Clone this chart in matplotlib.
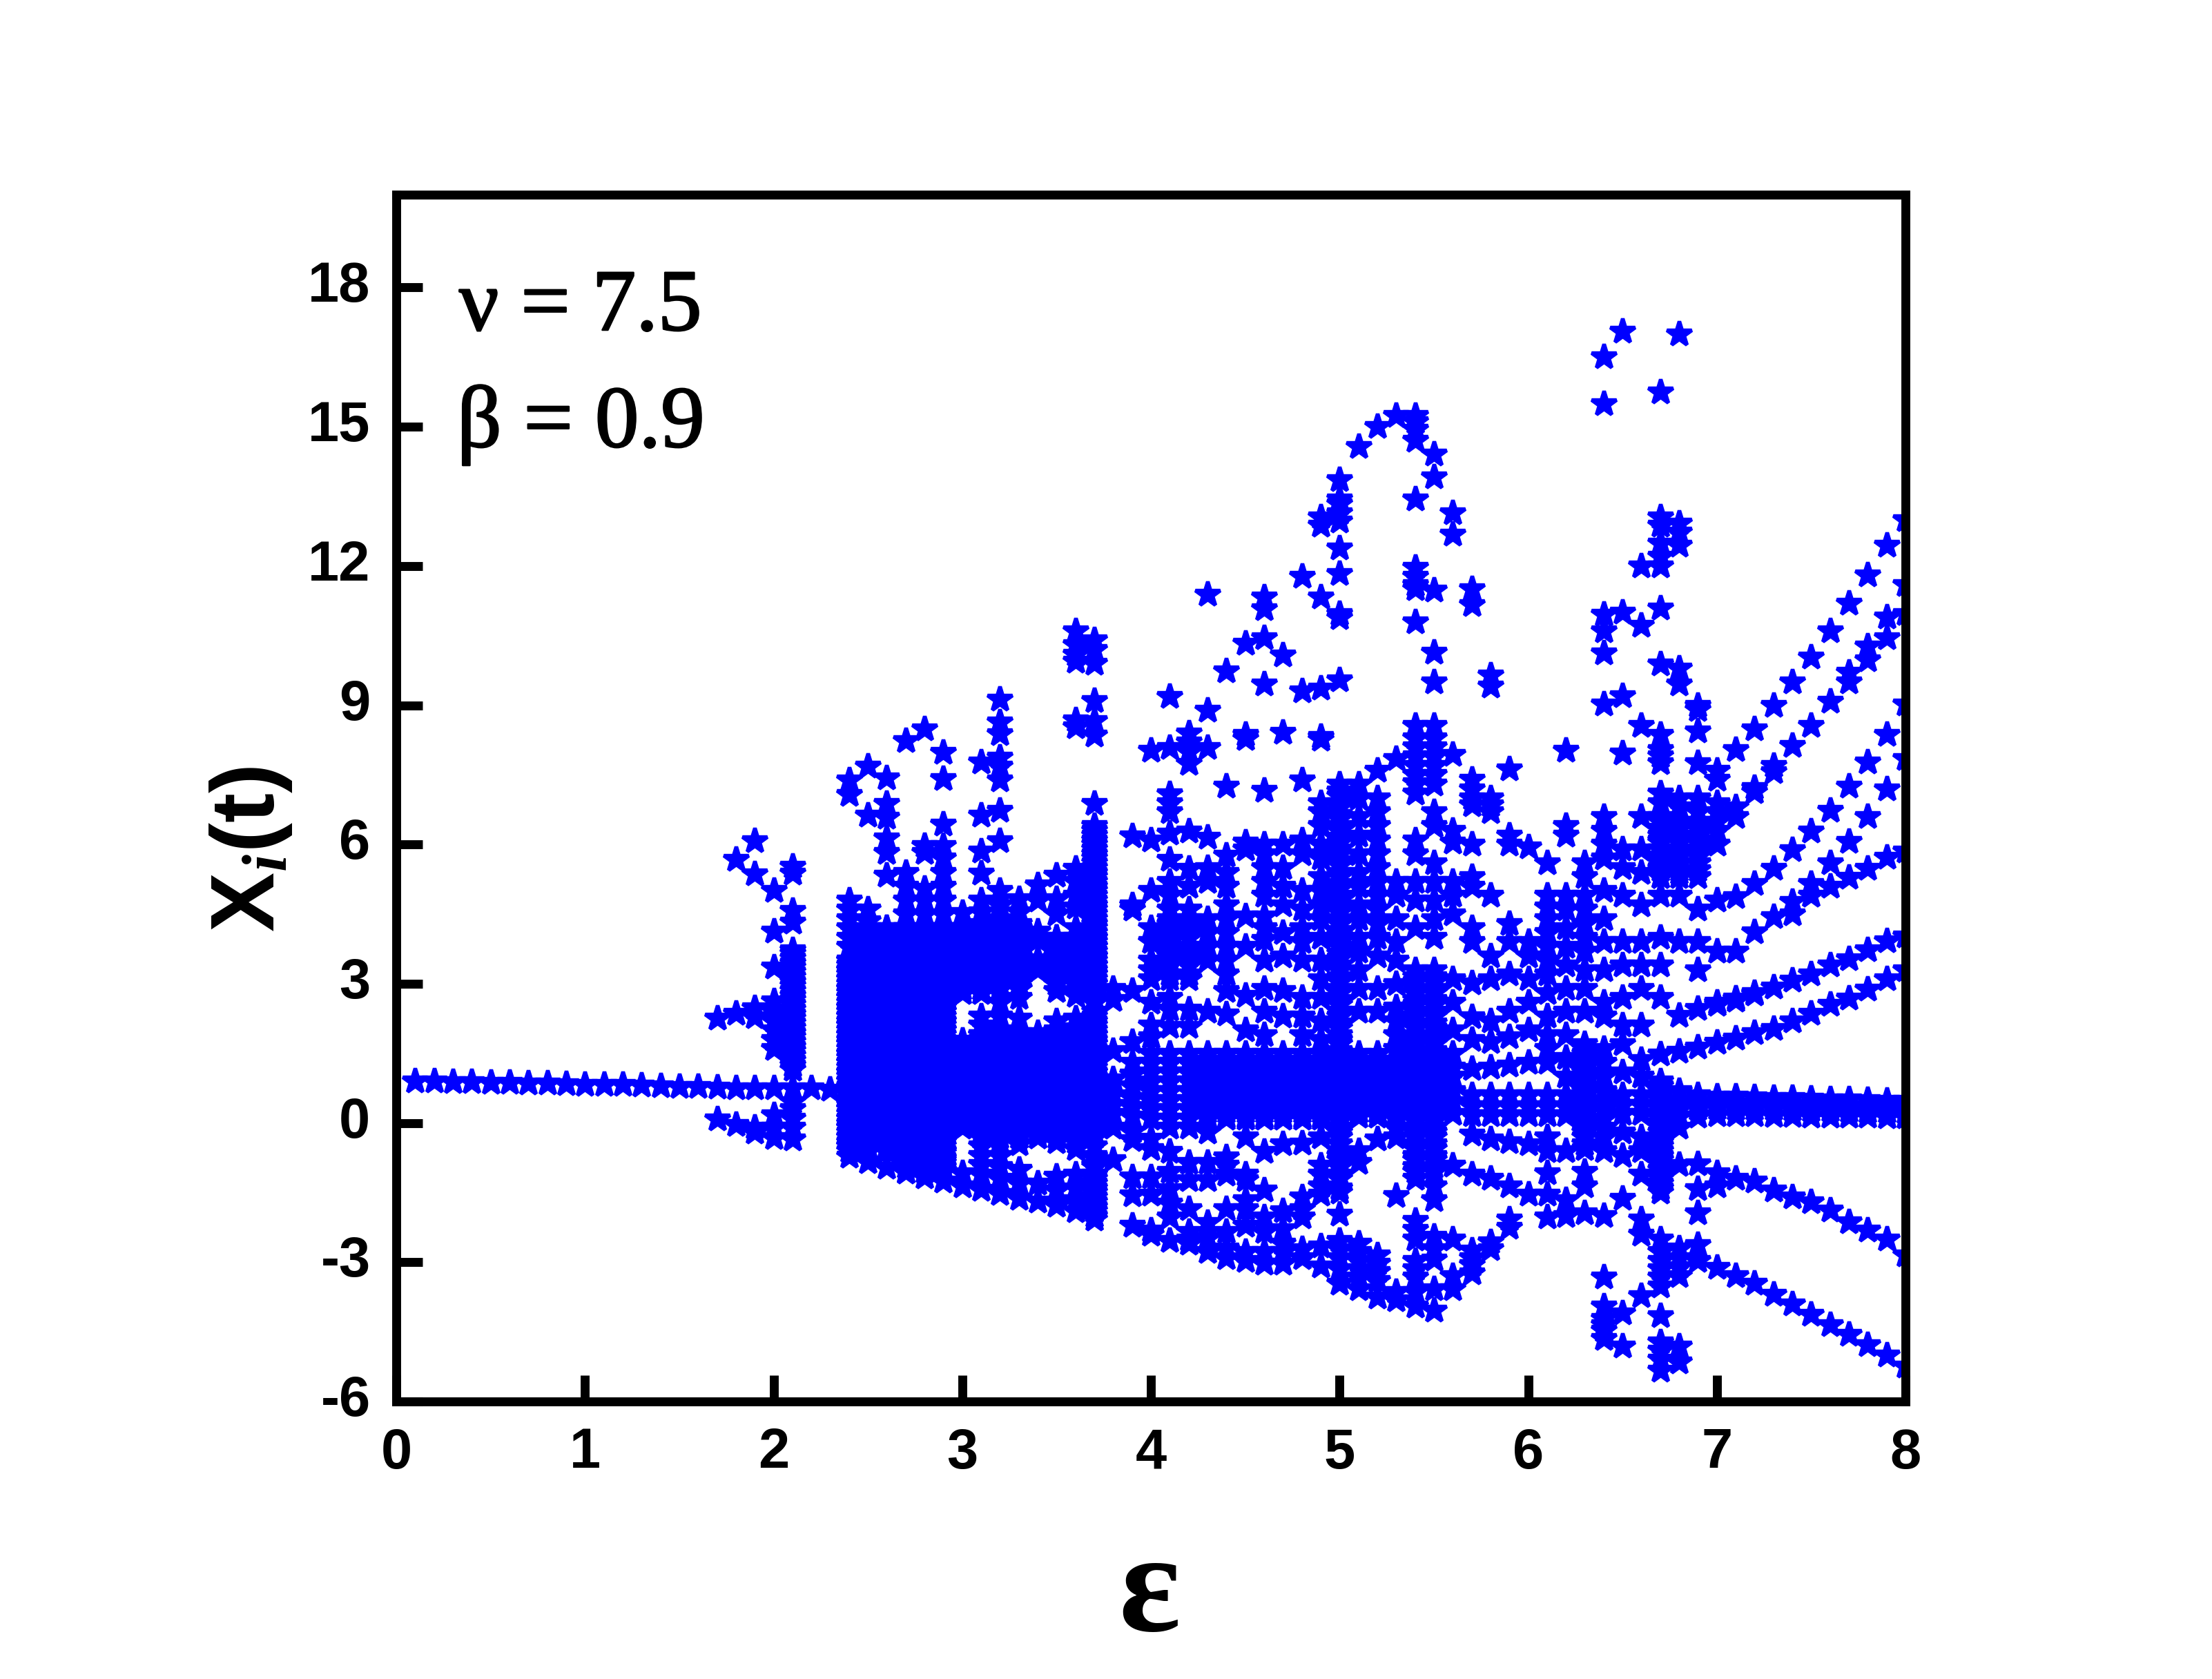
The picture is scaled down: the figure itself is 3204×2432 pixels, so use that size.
import matplotlib
matplotlib.use("Agg")
from matplotlib import pyplot as plt
from matplotlib import patheffects

# main line before the first splitting
eps_main = [0.1, 0.2, 0.3, 0.4, 0.5, 0.6, 0.7, 0.8, 0.9, 1.0, 1.1, 1.2, 1.3, 1.4, 1.5, 1.6]
x_main = [0.9, 0.9, 0.89, 0.88, 0.87, 0.87, 0.86, 0.85, 0.84, 0.83, 0.83, 0.82, 0.81, 0.8, 0.78, 0.78]

# one list of X values per epsilon
y17 = [2.25, 0.77, 0.08]
y18 = [5.68, 2.36, 0.76, -0.04]
y19 = [6.08, 5.37, 2.48, 2.28, 0.75, -0.1, -0.2]
y20 = [5.0, 4.13, 3.35, 2.63, 2.4, 2.2, 2.0, 1.8, 1.6, 0.75, 0.18, -0.1, -0.32]
y21 = [5.53, 5.38, 4.58, 4.33, 3.73, 3.55, 3.35, 3.15, 2.95, 2.75, 2.55, 2.35, 2.15, 1.95, 1.75, 1.55, 1.35, 1.15,
       0.76, 0.45, 0.3, 0.1, -0.1, -0.35]
y22 = [0.75]
y23 = [0.73]
y24 = [7.38, 7.08, 4.8, 4.6, 4.4, 4.2, 4.0, 3.8, 3.5, 3.3, 3.1, 2.9, 2.7, 2.5, 2.3, 2.1, 1.9, 1.7, 1.5, 1.3, 1.1,
       0.9, 0.7, 0.5, 0.3, 0.1, -0.1, -0.3, -0.5, -0.72]
y25 = [7.68, 6.63, 4.6, 4.35, 4.1, 3.85, 3.6, 3.4, 3.2, 3.0, 2.8, 2.6, 2.4, 2.2, 2.0, 1.8, 1.6, 1.4, 1.2, 1.0,
       0.8, 0.6, 0.4, 0.2, 0.0, -0.2, -0.4, -0.6, -0.84]
y26 = [7.43, 6.88, 6.58, 6.13, 5.83, 5.33, 4.2, 4.0, 3.8, 3.6, 3.4, 3.2, 3.0, 2.8, 2.6, 2.4, 2.2, 2.0, 1.8, 1.6, 1.4,
       1.2, 1.0, 0.8, 0.6, 0.4, 0.2, 0.0, -0.2, -0.4, -0.6, -0.96]
y27 = [8.23, 5.4, 5.1, 4.8, 4.5, 4.2, 4.0, 3.8, 3.6, 3.4, 3.2, 3.0, 2.8, 2.6, 2.4, 2.2, 2.0, 1.8, 1.6, 1.4, 1.2,
       1.0, 0.8, 0.6, 0.4, 0.2, 0.0, -0.2, -0.4, -0.6, -0.8, -1.06]
y28 = [8.48, 5.98, 5.83, 5.05, 4.8, 4.5, 4.2, 4.0, 3.8, 3.6, 3.4, 3.2, 3.0, 2.8, 2.6, 2.4, 2.2, 2.0, 1.8, 1.6, 1.4,
       1.2, 1.0, 0.8, 0.6, 0.4, 0.2, 0.0, -0.2, -0.4, -0.6, -0.9, -1.16]
y29 = [7.98, 7.41, 6.43, 5.98, 5.7, 5.4, 5.1, 4.8, 4.5, 4.2, 4.0, 3.8, 3.6, 3.4, 3.2, 3.0, 2.8, 2.6, 2.4, 2.2, 2.0,
       1.8, 1.6, 1.4, 1.2, 1.0, 0.8, 0.6, 0.4, 0.2, 0.0, -0.2, -0.4, -0.6, -0.8, -1.0, -1.26]
y30 = [4.53, 4.2, 4.0, 3.8, 3.6, 3.4, 3.2, 3.0, 2.8, 1.78, 1.55, 1.35, 1.15, 0.95, 0.75, 0.55, 0.35, 0.15, -0.1,
       -1.07, -1.36]
y31 = [7.78, 6.63, 5.85, 5.38, 4.8, 4.55, 4.3, 4.0, 3.7, 3.4, 3.1, 2.8, 2.3, 2.1, 1.9, 1.7, 1.5, 1.3, 1.1, 0.9, 0.7,
       0.5, 0.3, 0.1, -0.1, -0.3, -0.5, -0.7, -0.9, -1.1, -1.44]
y32 = [9.13, 8.63, 8.38, 7.88, 7.68, 7.38, 6.73, 6.08, 5.0, 4.7, 4.4, 4.1, 3.8, 3.5, 3.2, 2.9, 2.6, 2.3, 2.0, 1.8,
       1.6, 1.4, 1.2, 1.0, 0.8, 0.6, 0.4, 0.2, 0.0, -0.2, -0.4, -0.7, -0.95, -1.2, -1.52]
y33 = [4.83, 4.55, 4.3, 4.0, 3.7, 3.4, 3.1, 2.7, 2.25, 1.95, 1.7, 1.5, 1.3, 1.1, 0.9, 0.7, 0.5, 0.3, 0.1, -0.1, -0.3,
       -0.45, -1.0, -1.3, -1.62]
y34 = [5.13, 4.8, 4.13, 3.95, 3.53, 3.3, 1.95, 1.7, 1.5, 1.3, 1.1, 0.9, 0.7, 0.5, 0.3, 0.1, -0.1, -0.3, -1.3, -1.68]
y35 = [5.33, 4.83, 4.5, 4.0, 3.7, 3.4, 3.1, 2.85, 2.2, 2.0, 1.8, 1.6, 1.4, 1.2, 1.0, 0.8, 0.6, 0.4, 0.2, 0.0, -0.2,
       -0.4, -1.15, -1.45, -1.78]
y36 = [10.6, 10.3, 10.1, 9.95, 8.68, 8.53, 5.48, 5.2, 4.9, 4.65, 4.2, 3.9, 3.6, 3.3, 3.0, 2.75, 2.25, 2.05, 1.85, 1.65,
       1.45, 1.25, 1.05, 0.85, 0.65, 0.45, 0.25, 0.05, -0.15, -0.4, -0.55, -1.1, -1.4, -1.65, -1.9]
y37 = [10.4, 10.2, 9.9, 9.1, 8.66, 8.36, 6.88, 6.4, 6.2, 6.0, 5.8, 5.6, 5.4, 5.2, 5.0, 4.8, 4.6, 4.4, 4.2, 4.0, 3.8,
       3.6, 3.4, 3.2, 3.0, 2.8, 2.3, 2.1, 1.9, 1.7, 1.5, 1.3, 1.1, 0.9, 0.7, 0.5, 0.3, 0.1, -0.1, -0.3, -0.5, -0.75,
       -0.95, -1.2, -1.4, -1.6, -1.8, -2.08]
y38 = [2.9, 2.65, 1.55, 0.95, 0.6, 0.4, 0.2, -0.1, -0.8]
y39 = [6.18, 4.7, 4.6, 2.85, 1.75, 1.3, 1.05, 0.8, 0.55, 0.35, 0.15, -0.18, -0.37, -1.17, -1.55, -2.2]
y40 = [8.03, 6.1, 5.0, 4.2, 3.9, 3.5, 3.3, 3.1, 2.6, 2.1, 1.85, 1.5, 1.3, 1.1, 0.9, 0.7, 0.5, 0.3, 0.1, -0.34, -0.55,
       -1.17, -1.54, -2.31, -2.4]
y41 = [9.18, 8.09, 7.09, 6.9, 6.7, 6.24, 5.67, 5.2, 4.9, 4.6, 4.3, 4.1, 3.9, 3.7, 3.5, 3.1, 2.7, 2.45, 2.07, 1.5, 1.3,
       1.1, 0.9, 0.7, 0.5, 0.3, 0.1, -0.1, -0.62, -1.05, -1.42, -1.73, -2.03, -2.53]
y42 = [8.4, 8.2, 8.0, 7.75, 6.29, 5.48, 5.1, 4.6, 4.3, 4.0, 3.7, 3.4, 3.1, 2.45, 2.07, 1.5, 1.3, 1.1, 0.9, 0.7, 0.5,
       0.3, 0.1, -0.1, -0.86, -1.23, -1.85, -2.34, -2.5, -2.6]
y43 = [11.39, 8.89, 8.09, 6.15, 5.5, 5.2, 4.4, 4.1, 3.8, 3.5, 2.4, 1.5, 1.3, 1.1, 0.9, 0.7, 0.5, 0.3, 0.1, -0.2,
       -0.86, -1.23, -2.15, -2.47, -2.77]
y44 = [9.74, 7.25, 5.77, 5.4, 5.1, 4.7, 4.4, 4.1, 3.8, 3.5, 3.2, 2.85, 2.35, 1.5, 1.3, 1.1, 0.9, 0.7, 0.5, 0.3, 0.1,
       -0.74, -0.92, -1.1, -1.85, -2.34, -2.7, -2.9]
y45 = [10.33, 8.37, 8.28, 6.05, 5.9, 4.45, 3.8, 2.75, 2.0, 1.5, 1.3, 1.1, 0.9, 0.7, 0.5, 0.3, 0.1, -0.3, -1.1, -1.23,
       -1.66, -1.85, -2.2, -2.77, -2.96]
y46 = [11.33, 11.07, 10.45, 9.46, 7.17, 6.0, 5.8, 5.5, 5.2, 4.9, 4.45, 4.2, 3.95, 3.5, 2.9, 2.4, 1.9, 1.5, 1.3, 1.1,
       0.9, 0.7, 0.5, 0.3, 0.1, -0.62, -1.45, -2.03, -2.34, -2.77, -3.02]
y47 = [10.08, 8.42, 6.0, 5.5, 5.1, 4.7, 4.1, 3.6, 2.85, 2.3, 1.5, 1.3, 1.1, 0.9, 0.7, 0.5, 0.3, 0.1, -0.45, -1.9, -2.28,
       -2.6, -2.77, -3.02]
y48 = [11.78, 9.3, 7.38, 6.1, 5.8, 5.0, 4.6, 4.2, 3.9, 3.5, 2.7, 2.3, 1.9, 1.5, 1.3, 1.1, 0.9, 0.7, 0.5, 0.3, 0.1, -0.43,
       -1.6, -1.85, -2.03, -2.71, -2.9]
y49 = [13.06, 12.87, 11.33, 9.37, 8.32, 8.26, 6.9, 6.7, 6.4, 6.0, 5.7, 5.3, 5.0, 4.7, 4.4, 4.0, 3.5, 3.1, 2.7, 2.2, 1.8,
       1.5, 1.3, 1.1, 0.9, 0.7, 0.5, 0.3, 0.1, -0.3, -0.92, -1.1, -1.36, -1.54, -2.65, -3.08]
y50 = [13.86, 13.44, 13.34, 13.15, 12.96, 12.38, 11.83, 10.97, 10.88, 9.55, 7.3, 7.05, 6.8, 6.55, 6.3, 6.05, 5.8, 5.55,
       5.3, 5.05, 4.8, 4.55, 4.3, 4.05, 3.8, 3.55, 3.3, 3.05, 2.8, 2.55, 2.3, 2.05, 1.8, 1.55, 1.3, 1.05, 0.8, 0.55, 0.3,
       0.05, -0.2, -0.45, -0.7, -0.95, -1.2, -1.5, -1.97, -2.53, -2.71, -2.9, -3.14, -3.45]
y51 = [14.57, 7.3, 7.0, 6.6, 6.2, 5.8, 5.4, 5.1, 4.7, 4.4, 4.0, 3.7, 3.3, 2.9, 2.4, 1.5, 1.25, 1.0, 0.75, 0.5, 0.25,
       -0.6, -0.85, -2.6, -2.77, -2.96, -3.14, -3.33, -3.58]
y52 = [15.0, 7.6, 7.0, 6.7, 6.4, 6.1, 5.8, 5.5, 5.2, 4.9, 4.6, 4.3, 4.0, 3.6, 2.9, 2.4, 1.5, 1.25, 1.0, 0.75, 0.5, 0.25,
       -0.35, -2.84, -3.02, -3.2, -3.39, -3.76]
y53 = [15.24, 7.85, 5.2, 4.9, 4.4, 3.9, 3.5, 3.0, 2.5, 2.2, 1.9, 1.6, 1.3, 1.1, 0.9, 0.7, 0.5, 0.3, 0.1, -0.1, -0.3,
       -1.57, -3.64, -3.82]
y54 = [15.24, 15.1, 14.95, 14.7, 13.44, 11.97, 11.78, 11.6, 11.5, 10.8, 8.56, 8.3, 8.1, 7.9, 7.7, 7.5, 7.33, 7.1, 6.1,
       5.8, 5.2, 4.8, 4.2, 3.3, 3.05, 2.8, 2.55, 2.3, 2.05, 1.8, 1.55, 1.3, 1.05, 0.8, 0.55, 0.3, 0.05, -0.2, -0.45, -0.7,
       -0.95, -1.2, -2.1, -2.3, -2.5, -2.96, -3.14, -3.33, -3.64, -3.95]
y55 = [14.4, 13.91, 11.48, 10.14, 9.5, 8.56, 8.3, 8.1, 7.9, 7.7, 7.5, 7.3, 6.7, 6.4, 5.6, 5.2, 4.8, 4.4, 4.0, 3.3, 3.05,
       2.8, 2.55, 2.3, 2.05, 1.8, 1.55, 1.3, 1.05, 0.8, 0.55, 0.3, 0.05, -0.2, -0.45, -0.7, -0.95, -1.36, -1.66, -2.44,
       -2.71, -2.93, -3.58, -4.04]
y56 = [13.15, 12.68, 7.94, 6.3, 6.05, 5.2, 4.9, 4.5, 3.1, 2.6, 2.0, 1.5, 1.2, 1.0, 0.7, 0.45, 0.2, -0.92, -2.5, -3.3,
       -3.58]
y57 = [11.5, 11.17, 7.4, 7.2, 7.0, 6.85, 6.0, 5.3, 5.1, 4.2, 3.9, 3.02, 2.28, 1.79, 1.17, 0.6, 0.37, 0.18, -0.25, -1.11,
       -2.74, -2.9, -3.05, -3.24]
y58 = [9.65, 9.41, 7.0, 6.85, 6.7, 4.9, 3.6, 3.1, 2.2, 1.75, 1.2, 0.6, 0.37, 0.18, -0.35, -1.2, -2.56, -2.71]
y59 = [7.63, 6.2, 6.0, 4.3, 3.9, 3.2, 2.4, 1.85, 1.25, 0.6, 0.37, 0.18, -0.4, -1.36, -2.07, -2.25]
y60 = [5.95, 3.9, 3.6, 3.1, 2.6, 2.0, 1.3, 0.6, 0.37, 0.18, -0.45, -1.54]
y61 = [5.6, 4.9, 4.65, 4.4, 4.1, 3.8, 3.5, 3.2, 2.8, 2.3, 1.9, 1.6, 1.3, 0.6, 0.37, 0.18, -0.3, -0.6, -1.08, -1.54, -2.03]
y62 = [8.02, 6.4, 6.2, 4.9, 4.6, 4.2, 3.8, 3.4, 2.9, 2.4, 1.9, 1.4, 1.0, 0.6, 0.37, 0.18, -0.6, -1.66, -2.0]
y63 = [5.6, 5.3, 4.9, 4.6, 4.3, 4.0, 3.7, 3.3, 2.9, 2.4, 1.7, 1.5, 1.3, 1.1, 0.9, 0.7, 0.5, 0.3, 0.1, -0.1, -0.3, -0.55,
       -1.05, -1.36, -1.94]
y64 = [16.5, 15.5, 10.96, 10.6, 10.12, 9.03, 6.6, 6.3, 6.0, 5.7, 5.0, 4.4, 3.9, 3.3, 2.6, 2.3, 1.6, 1.3, 1.0, 0.7, 0.5,
       0.3, 0.1, -0.1, -0.3, -0.6, -2.0, -3.33, -3.95, -4.22, -4.35, -4.47, -4.65]
y65 = [17.05, 11.0, 9.2, 7.97, 5.9, 5.5, 4.9, 3.9, 3.4, 2.7, 2.1, 1.7, 1.1, 0.6, 0.4, 0.2, -0.2, -0.7, -1.63, -4.1, -4.81]
y66 = [12.0, 10.72, 8.56, 6.6, 5.9, 5.4, 4.7, 3.9, 3.4, 2.9, 2.1, 1.36, 1.0, 0.6, 0.4, 0.2, -0.3, -0.6, -1.1, -2.07, -2.4,
       -3.73]
y67 = [15.74, 13.06, 12.87, 12.49, 12.2, 12.0, 11.09, 9.89, 8.37, 8.04, 7.9, 7.76, 7.1, 6.9, 6.6, 6.3, 6.1, 5.9, 5.7, 5.5,
       5.3, 4.9, 4.0, 3.4, 2.7, 1.48, 0.9, 0.7, 0.5, 0.3, 0.1, -0.1, -0.3, -0.5, -0.7, -0.9, -1.1, -1.3, -1.5, -2.5, -2.77,
       -2.96, -3.14, -3.33, -3.51, -4.16, -4.72, -4.9, -5.09, -5.33]
y68 = [17.0, 12.92, 12.73, 12.44, 9.8, 9.46, 7.0, 6.8, 6.4, 6.1, 5.8, 5.6, 5.4, 4.9, 3.9, 2.31, 1.54, 0.7, 0.5, 0.35, 0.15,
       -0.1, -0.9, -2.7, -2.9, -3.1, -3.3, -4.81, -5.15]
y69 = [8.99, 8.9, 8.45, 7.76, 7.0, 6.7, 6.4, 6.1, 5.85, 5.6, 5.3, 4.6, 3.9, 3.3, 2.47, 1.63, 0.6, 0.45, 0.3, 0.15, -0.89,
       -1.42, -1.94, -2.62, -2.96]
y70 = [7.6, 7.4, 6.9, 6.7, 6.5, 6.3, 6.0, 4.8, 3.7, 2.59, 2.55, 1.73, 0.58, 0.44, 0.32, 0.18, -1.08, -1.36, -3.11]
y71 = [8.04, 6.8, 6.6, 4.87, 3.7, 2.68, 2.64, 1.82, 0.57, 0.43, 0.31, 0.17, -1.2, -3.3]
y72 = [8.49, 7.23, 7.14, 5.15, 4.11, 2.8, 2.78, 1.94, 0.56, 0.42, 0.3, 0.17, -1.26, -3.45]
y73 = [8.99, 7.7, 7.57, 5.48, 4.44, 2.93, 2.03, 0.55, 0.41, 0.3, 0.16, -1.45, -3.7]
y74 = [9.5, 8.13, 5.88, 4.77, 4.5, 3.07, 2.19, 0.54, 0.4, 0.29, 0.16, -1.6, -3.91]
y75 = [10.03, 8.56, 6.29, 5.15, 4.9, 3.21, 2.36, 0.53, 0.39, 0.28, 0.15, -1.7, -4.13]
y76 = [10.6, 9.08, 6.73, 5.6, 5.1, 3.4, 2.55, 0.52, 0.38, 0.27, 0.15, -1.88, -4.35]
y77 = [11.19, 9.7, 9.5, 7.25, 6.07, 5.29, 3.54, 2.69, 0.51, 0.37, 0.26, 0.14, -2.13, -4.56]
y78 = [11.8, 10.27, 9.98, 7.77, 6.6, 5.48, 3.73, 2.88, 0.5, 0.36, 0.25, 0.14, -2.31, -4.78]
y79 = [12.44, 10.9, 10.45, 8.37, 7.19, 5.72, 3.92, 3.11, 0.49, 0.35, 0.24, 0.13, -2.5, -5.0]
y80 = [13.0, 11.6, 10.97, 9.03, 7.85, 5.86, 4.02, 3.3, 0.48, 0.34, 0.23, 0.13, -2.84, -5.24]

eps_columns = [1.7, 1.8, 1.9, 2.0, 2.1, 2.2, 2.3, 2.4, 2.5, 2.6, 2.7, 2.8, 2.9, 3.0, 3.1, 3.2, 3.3, 3.4, 3.5, 3.6, 3.7,
               3.8, 3.9, 4.0, 4.1, 4.2, 4.3, 4.4, 4.5, 4.6, 4.7, 4.8, 4.9, 5.0, 5.1, 5.2, 5.3, 5.4, 5.5, 5.6, 5.7, 5.8,
               5.9, 6.0, 6.1, 6.2, 6.3, 6.4, 6.5, 6.6, 6.7, 6.8, 6.9, 7.0, 7.1, 7.2, 7.3, 7.4, 7.5, 7.6, 7.7, 7.8, 7.9,
               8.0]
y_columns = [y17, y18, y19, y20, y21, y22, y23, y24, y25, y26, y27, y28, y29, y30, y31, y32, y33, y34, y35, y36, y37,
             y38, y39, y40, y41, y42, y43, y44, y45, y46, y47, y48, y49, y50, y51, y52, y53, y54, y55, y56, y57, y58,
             y59, y60, y61, y62, y63, y64, y65, y66, y67, y68, y69, y70, y71, y72, y73, y74, y75, y76, y77, y78, y79,
             y80]

# the solid areas: groups of epsilon that share the same closely packed values
eps_a = [2.4, 2.5, 2.6, 2.7, 2.8, 2.9]
dense_a = [-0.6, -0.5, -0.4, -0.3, -0.2, -0.1, 0.0, 0.1, 0.2, 0.3, 0.4, 0.5, 0.6, 0.7, 0.8, 0.9, 1.0, 1.1, 1.2, 1.3,
           1.4, 1.5, 1.6, 1.7, 1.8, 1.9, 2.0, 2.1, 2.2, 2.3, 2.4, 2.5, 2.6, 2.7, 2.8, 2.9, 3.0, 3.1, 3.2, 3.3, 3.4, 3.5]
eps_a_top = [2.5, 2.6, 2.7, 2.8, 2.9, 3.0, 3.1, 3.2, 3.3]
dense_a_top = [2.9, 3.0, 3.1, 3.2, 3.3, 3.4, 3.5, 3.6, 3.7, 3.8, 3.9, 4.0, 4.1, 4.2]
eps_a_low = [2.7, 2.8, 2.9]
dense_a_low = [-1.05, -0.95, -0.85, -0.75, -0.65]
eps_b = [3.0, 3.1, 3.2, 3.3, 3.4, 3.5, 3.6, 3.7]
dense_b = [0.0, 0.1, 0.2, 0.3, 0.4, 0.5, 0.6, 0.7, 0.8, 0.9, 1.0, 1.1, 1.2, 1.3, 1.4, 1.5, 1.6, 1.7]
eps_c = [3.1, 3.2, 3.3, 3.4, 3.5, 3.6, 3.7]
dense_c = [-0.3, -0.2, -0.1, 1.8, 1.9]
eps_d = [3.5, 3.6, 3.7]
dense_d = [3.0, 3.1, 3.2, 3.3, 3.4, 3.5, 3.6, 3.7, 3.8, 3.9, 4.0]
eps_e = [3.7]
dense_e = [-2.0, -1.9, -1.7, -1.5, -1.3, -1.1, -0.9, -0.7, 2.0, 2.2, 2.4, 2.6, 2.7, 2.9, 4.1, 4.3, 4.5, 4.7, 4.9, 5.1,
           5.3, 5.5, 5.7, 5.9, 6.1, 6.3]
eps_f = [2.1]
dense_f = [1.25, 1.45, 1.65, 1.85, 2.05, 2.25, 2.45, 2.65, 2.85, 3.05, 3.25, 3.45, 3.65]
eps_g = [4.3, 4.4, 4.5, 4.6, 4.7, 4.8, 4.9, 5.0, 5.1, 5.2, 5.3, 5.4, 5.5]
dense_g = [0.15, 0.25, 0.35, 0.45, 0.55, 0.65, 0.75, 0.85, 0.95, 1.05, 1.15, 1.25, 1.35]
eps_h = [5.0]
dense_h = [-1.4, -1.1, -0.8, -0.6, -0.3, -0.1, 1.45, 1.7, 1.9, 2.15, 2.4, 2.65, 2.9, 3.15, 3.4, 3.65, 3.9, 4.15, 4.4,
           4.65, 4.9, 5.15, 5.4, 5.65, 5.9, 6.15, 6.4, 6.65, 6.9, 7.15]
eps_i = [5.4, 5.5]
dense_i = [-1.05, -0.8, -0.55, -0.3, -0.1, 1.45, 1.7, 1.9, 2.15, 2.4, 2.65, 2.9, 3.15]
eps_j = [4.1, 4.2]
dense_j = [3.2, 3.4, 3.6, 3.8, 4.0, 4.2, 4.4]
eps_k = [6.3]
dense_k = [-0.45, -0.2, 0.0, 0.2, 0.4, 0.6, 0.8, 1.0, 1.2, 1.4, 1.6]
eps_l = [6.7]
dense_l = [-1.4, -1.2, -1.0, -0.8, -0.6, -0.4, -0.2, 0.0, 0.2, 0.4, 0.6, 0.8]
eps_m = [6.7, 6.8, 6.9]
dense_m = [5.3, 5.45, 5.6, 5.75, 5.9, 6.05, 6.2, 6.35, 6.5]
eps_groups = [eps_a, eps_a_top, eps_a_low, eps_b, eps_c, eps_d, eps_e, eps_f, eps_g, eps_h, eps_i, eps_j, eps_k, eps_l,
              eps_m]
dense_groups = [dense_a, dense_a_top, dense_a_low, dense_b, dense_c, dense_d, dense_e, dense_f, dense_g, dense_h,
                dense_i, dense_j, dense_k, dense_l, dense_m]

x_ticks = [0, 1, 2, 3, 4, 5, 6, 7, 8]
y_ticks = [-6, -3, 0, 3, 6, 9, 12, 15, 18]

plt.rcParams['font.family'] = ['Liberation Sans', 'DejaVu Sans']
plt.rcParams['axes.unicode_minus'] = False
plt.rcParams['mathtext.fontset'] = 'custom'
plt.rcParams['mathtext.rm'] = 'Liberation Sans:bold'
plt.rcParams['mathtext.it'] = 'Liberation Serif:italic:bold'

W, H = 3204, 2432
fig = plt.figure(figsize=(W / 300, H / 300), dpi=300)
ax = fig.add_axes([574 / W, 1 - 2030 / H, (2760 - 574) / W, (2030 - 282) / H])

# an edge on the markers makes the arms as fat as in the original
star = dict(linestyle='none', marker='*', markersize=9, color='#0000ff', markeredgewidth=1.3)
ax.plot(eps_main, x_main, **star)
for eps, values in zip(eps_columns, y_columns):
    ax.plot([eps] * len(values), values, **star)
for group, values in zip(eps_groups, dense_groups):
    for eps in group:
        ax.plot([eps] * len(values), values, **star)

ax.set_xlim(0, 8)
ax.set_ylim(-6, 20)
ax.set_xticks(x_ticks)
ax.set_yticks(y_ticks)
ax.tick_params(direction='in', length=9.2, width=3.1, pad=9, labelsize=19.5)
for label in ax.get_xticklabels() + ax.get_yticklabels():
    label.set_fontweight('bold')
    label.set_verticalalignment('center')
for label in ax.get_xticklabels():
    label.set_verticalalignment('top')
for spine in ax.spines.values():
    spine.set_linewidth(3.1)

thick = [patheffects.withStroke(linewidth=0.6, foreground='black')]
fig.text(665 / W, 1 - 478 / H, 'ν = 7.5', family='Liberation Serif', fontsize=30.5, va='baseline', path_effects=thick)
fig.text(662 / W, 1 - 647 / H, 'β = 0.9', family='Liberation Serif', fontsize=30.5, va='baseline', path_effects=thick)
fig.text(1665 / W, 1 - 2362 / H, 'ε', family='Liberation Serif', weight='bold', fontsize=50, ha='center',
         va='baseline')
fig.text(363 / W, 1 - 1230 / H, r'X$_{\mathit{i}}$(t)', weight='bold', fontsize=31, rotation=90, ha='center',
         va='center')

plt.savefig('out.png', dpi=300)
